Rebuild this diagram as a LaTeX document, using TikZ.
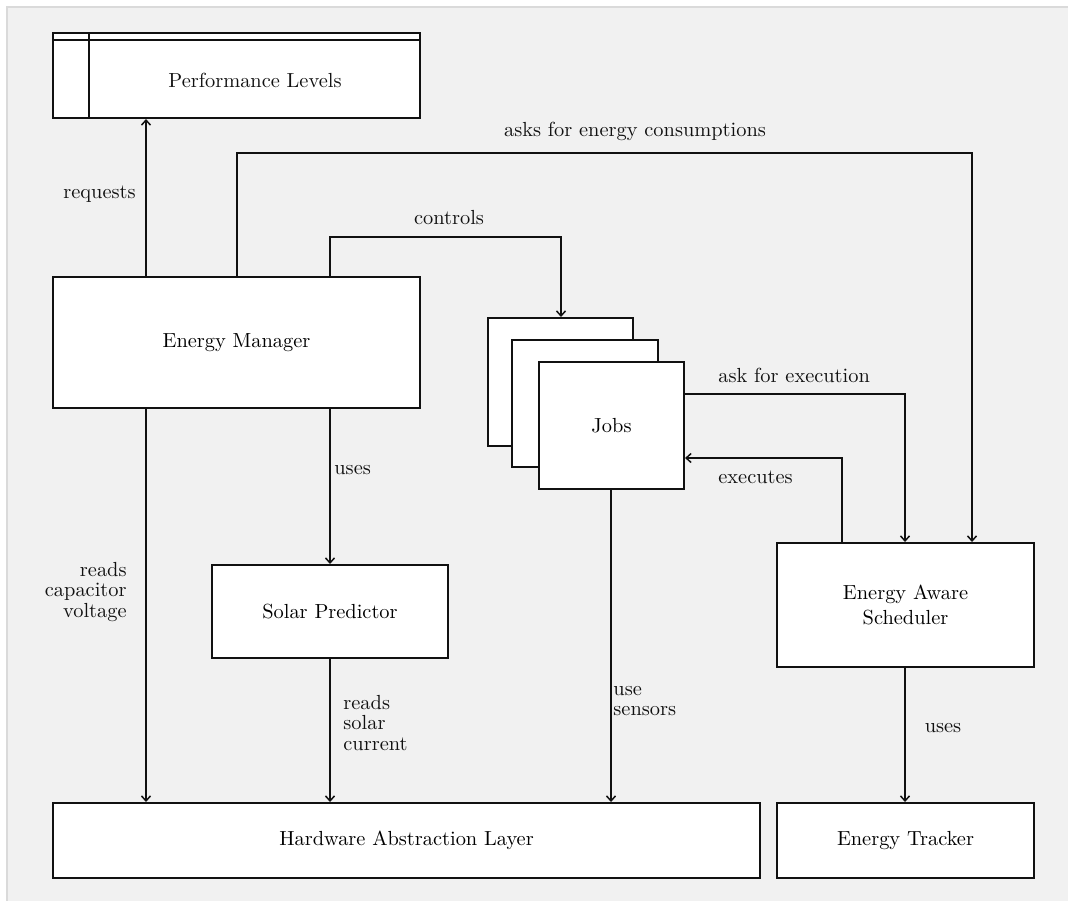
\documentclass[tikz,border=0pt]{standalone}
\usepackage{fontspec}
\usetikzlibrary{arrows.meta, positioning}
\definecolor{bggray}{HTML}{F1F1F1}
\definecolor{framegray}{HTML}{DADADA}
\definecolor{ink}{HTML}{111111}

\begin{document}
\begin{tikzpicture}[x=0.5pt, y=-0.5pt,
 box/.style={draw=ink, line width=1pt, fill=white, inner sep=0pt, align=center, font=\fontsize{10.2pt}{12.5pt}\selectfont},
 wire/.style={draw=ink, line width=0.75pt},
 conn/.style={wire, -{Straight Barb[length=2.5pt, width=4.5pt]}},
 lbl/.style={inner sep=0pt, text=ink, font=\fontsize{10.2pt}{10.25pt}\selectfont}]
 \useasboundingbox (0,0) rectangle (1068,900);
 \fill[bggray] (7,7) rectangle (1070,902);
 \draw[framegray, line width=0.75pt] (7,902) -- (7,7) -- (1070,7);

 \node[box, minimum width=183.5pt, minimum height=42.5pt] (pl) at (236.5,75.5) {};
 \draw[ink, line width=1pt] ([xshift=18.5pt]pl.north west) -- ([xshift=18.5pt]pl.south west);
 \draw[ink, line width=1pt] ([yshift=-4pt]pl.north west) -- ([yshift=-4pt]pl.north east);
 \node[lbl] (pltext) at (255,80) {Performance Levels};

 \node[box, minimum width=183.5pt, minimum height=65.5pt] (em) at (236.5,342.5) {Energy Manager};
 \node[box, minimum width=72.5pt, minimum height=64pt] (jback) at (560.5,382) {};
 \node[box, minimum width=73pt, minimum height=63.5pt] (jmid) at (585,403.5) {};
 \node[box, minimum width=72.5pt, minimum height=63.5pt] (jobs) at (611.5,425.5) {Jobs};
 \node[box, minimum width=118pt, minimum height=46.5pt] (sp) at (330,611.5) {Solar Predictor};
 \node[box, minimum width=128.5pt, minimum height=62pt] (eas) at (905.5,605) {Energy Aware\\Scheduler};
 \node[box, minimum width=353.5pt, minimum height=37.5pt] (hal) at (406.5,840.5) {Hardware Abstraction Layer};
 \node[box, minimum width=128.5pt, minimum height=37.5pt] (et) at (905.5,840.5) {Energy Tracker};

 \coordinate (xreq) at (146,0);
 \coordinate (xsp) at (330,0);
 \coordinate (xsens) at (611,0);
 \coordinate (cask1) at (237,153);
 \coordinate (cask2) at (972,153);
 \coordinate (cctl1) at (330,237);
 \coordinate (cctl2) at (561,237);
 \coordinate (cexe) at (905,394);
 \coordinate (cback) at (842,458);

 \draw[conn] (em.north -| xreq) -- (pl.south -| xreq);
 \draw[conn] (em.north -| cask1) -- (cask1) -- (cask2) -- (eas.north -| cask2);
 \draw[conn] (em.north -| cctl1) -- (cctl1) -- (cctl2) -- (jback.north -| cctl2);
 \draw[conn] (jobs.east |- cexe) -- (cexe) -- (eas.north -| cexe);
 \draw[conn] (eas.north -| cback) -- (cback) -- (jobs.east |- cback);
 \draw[conn] (eas.south -| cexe) -- (et.north -| cexe);
 \draw[conn] (em.south -| xreq) -- (hal.north -| xreq);
 \draw[conn] (em.south -| xsp) -- (sp.north -| xsp);
 \draw[conn] (sp.south -| xsp) -- (hal.north -| xsp);
 \draw[conn] (jobs.south -| xsens) -- (hal.north -| xsens);

 \node[lbl, anchor=east] (lreq) at (136,194) {requests};
 \node[lbl] (lask) at (635,131) {asks for energy consumptions};
 \node[lbl] (lctl) at (449,218) {controls};
 \node[lbl, anchor=west] (lexe) at (718,375) {ask for execution};
 \node[lbl, anchor=west] (lback) at (718,477) {executes};
 \node[lbl, anchor=west] (luse) at (334,470) {uses};
 \node[lbl, anchor=east, align=right] (lcap) at (127,592) {reads\\capacitor\\voltage};
 \node[lbl, anchor=west, align=left] (lsol) at (343,723) {reads\\solar\\current};
 \node[lbl, anchor=west, align=left] (lsens) at (613,701) {use\\sensors};
 \node[lbl] (luset) at (943,728) {uses};
\end{tikzpicture}
\end{document}
